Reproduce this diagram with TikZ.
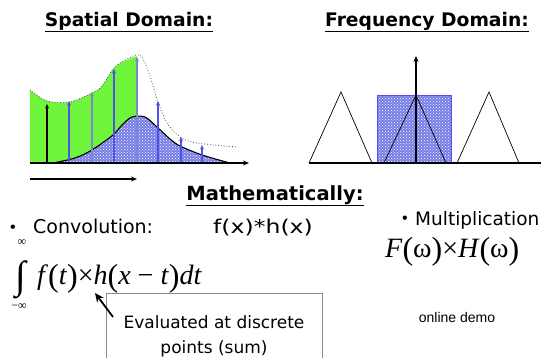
\documentclass[tikz,border=0pt]{standalone}
\usepackage{fontspec}
\usepackage{graphicx}
\setmainfont{Liberation Sans}
\newfontfamily\tms{Liberation Serif}
\newfontfamily\hds{DejaVu Sans}
\usetikzlibrary{patterns,arrows.meta}
\definecolor{grn}{RGB}{110,245,60}
\definecolor{pblue}{RGB}{118,126,230}
\definecolor{arrblue}{RGB}{80,80,235}
\definecolor{arrgray}{RGB}{125,135,205}
\newcommand\myparen[1]{\raisebox{-2pt}{\fontsize{32}{32}\selectfont #1}}
\begin{document}
\begin{tikzpicture}[x=1pt,y=-1pt,
  title/.style={font=\hds\bfseries\fontsize{18.7}{18.7}\selectfont, anchor=base, inner sep=0pt},
  body/.style={font=\hds\fontsize{19}{19}\selectfont, anchor=base west, inner sep=0pt},
  bul/.style={font=\fontsize{16}{16}\selectfont, inner sep=0pt},
  formula/.style={font=\tms\fontsize{28}{28}\selectfont, anchor=base west, inner sep=0pt},
  pat/.style={preaction={fill=pblue}, pattern=crosshatch dots, pattern color=white},
  spike/.style={-{Stealth[length=4.5pt,width=4pt]}, line width=1.1pt},
  axis/.style={-{Stealth[length=6pt,width=5pt]}, line width=1.5pt},
  tri/.style={line width=0.7pt}]
\useasboundingbox (0,0) rectangle (541,358);

% ---------- titles ----------
\node[title] (ts) at (129,27) {Spatial Domain:};
\draw[line width=1.2pt] ([yshift=-4.5pt]ts.base west) -- ([yshift=-4.5pt]ts.base east);
\node[title] (tf) at (427,27) {Frequency Domain:};
\draw[line width=1.2pt] ([yshift=-4.5pt]tf.base west) -- ([yshift=-4.5pt]tf.base east);
\node[title, font=\hds\bfseries\fontsize{19.5}{19.5}\selectfont] (tm) at (275,201) {Mathematically:};
\draw[line width=1.2pt] ([yshift=-4.5pt]tm.base west) -- ([yshift=-4.5pt]tm.base east);

% ---------- spatial plot ----------
\fill[grn] (30,163) -- plot[smooth] coordinates {(30,90) (47,101) (70,102) (92,93) (102,86) (113,69) (122,62) (137,56)} -- (137,163) -- cycle;
\path[pat] (53,163) -- plot[smooth] coordinates {(53,163) (75,158) (92,150) (113,135) (122,125) (132,117) (145,117) (157,127) (170,139) (180,146) (202,155) (230,163)} -- cycle;
\draw[line width=1.1pt] plot[smooth] coordinates {(53,163) (75,158) (92,150) (113,135) (122,125) (132,117) (145,117) (157,127) (170,139) (180,146) (202,155) (230,163)};
\draw[spike, black] (47,163) -- (47,104);
\draw[spike, arrblue] (69,163) -- (69,101);
\draw[spike, arrgray] (92,163) -- (92,92);
\draw[spike, arrblue] (114,163) -- (114,69);
\draw[spike, arrgray] (137,163) -- (137,57);
\draw[spike, arrblue] (158,163) -- (158,101);
\draw[spike, arrblue] (181,163) -- (181,137);
\draw[spike, arrblue] (202,163) -- (202,145);
\draw[dotted, line width=0.8pt, black!70] plot[smooth] coordinates {(30,90) (47,101) (70,102) (92,93) (102,86) (113,69) (122,62) (136,55) (142,57) (149,73) (158,102) (167,123) (180,137) (197,143) (237,147)};
\draw[axis] (30,163) -- (249,163);
\draw[axis] (30,179) -- (137,179);

% ---------- frequency plot ----------
\path[pat, draw=arrblue, line width=0.6pt] (377,95) rectangle (451,163);
\draw[tri] (309,163) -- (341,92) -- (372,163);
\draw[tri] (384,163) -- (416,95) -- (446,163);
\draw[tri] (457,163) -- (489,92) -- (519,163);
\draw[axis] (309,163) -- (547,163);
\draw[axis] (416,163) -- (416,56);

% ---------- text ----------
\node[bul] (b1) at (13,229) {•};
\node[body] (conv) at (33,234) {Convolution:};
\node[body] (fh) at (213,234) {\scalebox{1.24}[1]{f(x)*h(x)}};
\node[bul] (b2) at (405,220) {•};
\node[body, font=\hds\fontsize{18.5}{18.5}\selectfont] (mult) at (415,226) {Multiplication:};

\node[font=\tms\fontsize{39}{39}\selectfont, inner sep=0pt] (int) at (21,280) {∫};
\node[font=\tms\fontsize{12}{12}\selectfont, inner sep=0pt] (inf) at (22,243) {∞};
\node[font=\tms\fontsize{12}{12}\selectfont, inner sep=0pt] (minf) at (19,307) {−∞};
\node[formula] (conveq) at (37,284) {\textit{f}\myparen{(}\textit{t}\myparen{)}×\textit{h}\myparen{(}\textit{x} − \textit{t}\myparen{)}\textit{dt}};
\node[formula] (multeq) at (385,258) {\textit{F}\myparen{(}ω\myparen{)}×\textit{H}\myparen{(}ω\myparen{)}};

\node[inner sep=0pt, minimum width=215pt, minimum height=66pt] (box) at (214.5,327) {};
\draw[black!45, line width=0.8pt] (box.south west) -- (box.north west) -- (box.north east) -- (box.south east);
\node[font=\hds\fontsize{17}{17}\selectfont, anchor=base, inner sep=0pt] (ev1) at (214,328) {Evaluated at discrete};
\node[font=\hds\fontsize{17}{17}\selectfont, anchor=base, inner sep=0pt] (ev2) at (214,353) {points (sum)};
\coordinate (tail) at (113,317);
\coordinate (tip) at (95,293);
\draw[-{Stealth[length=9pt,width=8pt]}, line width=1.8pt] (tail) -- (tip);

\node[font=\fontsize{14}{14}\selectfont, inner sep=0pt] (demo) at (457,317) {online demo};
\end{tikzpicture}
\end{document}
